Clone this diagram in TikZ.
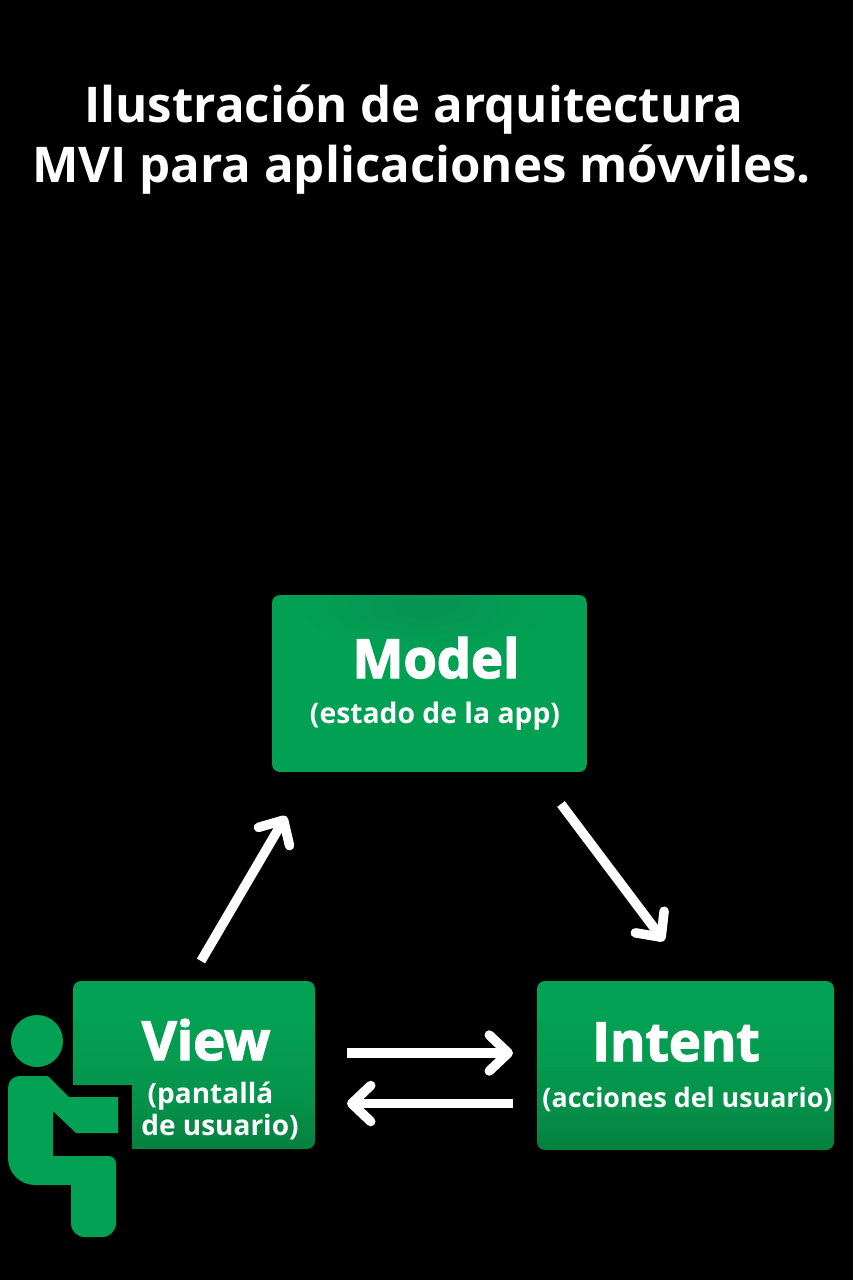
\documentclass[tikz,border=0pt]{standalone}
\usepackage{fontspec}
\setmainfont{Open Sans}
\newfontfamily\heavyfont[FakeBold=2.5]{Open Sans Bold}
\usetikzlibrary{arrows.meta}
\definecolor{appgreen}{HTML}{03A153}
\definecolor{appdark}{HTML}{07803F}
\definecolor{appmid}{HTML}{01A053}
\definecolor{appspot}{HTML}{099352}
\pgfdeclareverticalshading{boxshade}{100bp}{
  color(0bp)=(appdark); color(25bp)=(appdark); color(38bp)=(appgreen!50!appdark); color(50bp)=(appgreen!78!appdark); color(65bp)=(appgreen); color(75bp)=(appgreen); color(100bp)=(appgreen)}
\tikzset{
  x=1pt,y=-1pt,
  boxfill/.style={shading=boxshade,draw=none},
  titletxt/.style={text=white,inner sep=0pt,anchor=base,font=\fontsize{49.2}{49.2}\selectfont\bfseries},
  headtxt/.style={text=white,inner sep=0pt,anchor=base,font=\fontsize{54}{54}\selectfont\heavyfont},
  subtxt/.style={text=white,inner sep=0pt,anchor=base,font=\fontsize{#1}{#1}\selectfont\bfseries},
  flow/.style={draw=white,line width=9.5pt,-{Straight Barb[round,length=19pt,width=36pt,line width=9.5pt]}},
}
\begin{document}
\begin{tikzpicture}
\useasboundingbox (0,0) rectangle (853,1280);
\fill[black] (0,0) rectangle (853,1280);
% title
\node[titletxt] (title1) at (414,122.5) {Ilustración de arquitectura};
\node[titletxt] (title2) at (421.5,182.5) {MVI para aplicaciones móvviles.};
% boxes
\begin{scope}
  \clip[rounded corners=8pt] (272,595) rectangle (587,772);
  \fill[appmid] (272,595) rectangle (587,772);
  \shade[inner color=appspot,outer color=appmid] (425,605) ellipse [x radius=130,y radius=50];
\end{scope}
\node[inner sep=0pt] (modelbox) at (429.5,683.5) {};
\shade[boxfill,rounded corners=8pt] (537,981) rectangle (834,1150);
\node[inner sep=0pt] (intentbox) at (685.5,1065.5) {};
\shade[boxfill] (73,1085) [rounded corners=8pt] -- (73,981) -- (315,981) -- (315,1149) [sharp corners] -- (132,1149) -- (132,1085) -- cycle;
\node[inner sep=0pt] (viewbox) at (194,1065) {};
% person
\fill[appgreen] (37,1041) circle (26);
\fill[appgreen] (20,1076) -- (48,1076) -- (69,1097) -- (118,1097) -- (118,1133) -- (76,1133) -- (53,1111) -- (53,1156) -- (108,1156)
  .. controls (113,1156) and (116,1159) .. (116,1164) -- (116,1223)
  .. controls (116,1231) and (110,1237) .. (102,1237) -- (85,1237)
  .. controls (77,1237) and (71,1231) .. (71,1223) -- (71,1185) -- (35,1185)
  .. controls (20,1185) and (8,1173) .. (8,1158) -- (8,1088)
  .. controls (8,1081) and (13,1076) .. (20,1076) -- cycle;
% labels
\node[headtxt] (model) at (436,678) {Model};
\node[subtxt=28.3] (models) at (435,723) {(estado de la app)};
\node[headtxt] (view) at (206,1060) {View};
\node[subtxt=28] (views1) at (210.5,1103) {(pantallá};
\node[subtxt=28] (views2) at (220,1135.5) {de usuario)};
\node[headtxt] (intent) at (676,1061) {Intent};
\node[subtxt=26.8] (intents) at (687.5,1107.5) {(acciones del usuario)};
% connector ends
\coordinate (a1) at (201,961); \coordinate (a2) at (286,816);
\coordinate (b1) at (561,804); \coordinate (b2) at (664,941);
\coordinate (c1) at (347,1053); \coordinate (c2) at (513,1053);
\coordinate (d1) at (513,1103.5); \coordinate (d2) at (347,1103.5);
\draw[flow] (a1) -- (a2);
\draw[flow] (b1) -- (b2);
\draw[flow] (c1) -- (c2);
\draw[flow] (d1) -- (d2);
\end{tikzpicture}
\end{document}
